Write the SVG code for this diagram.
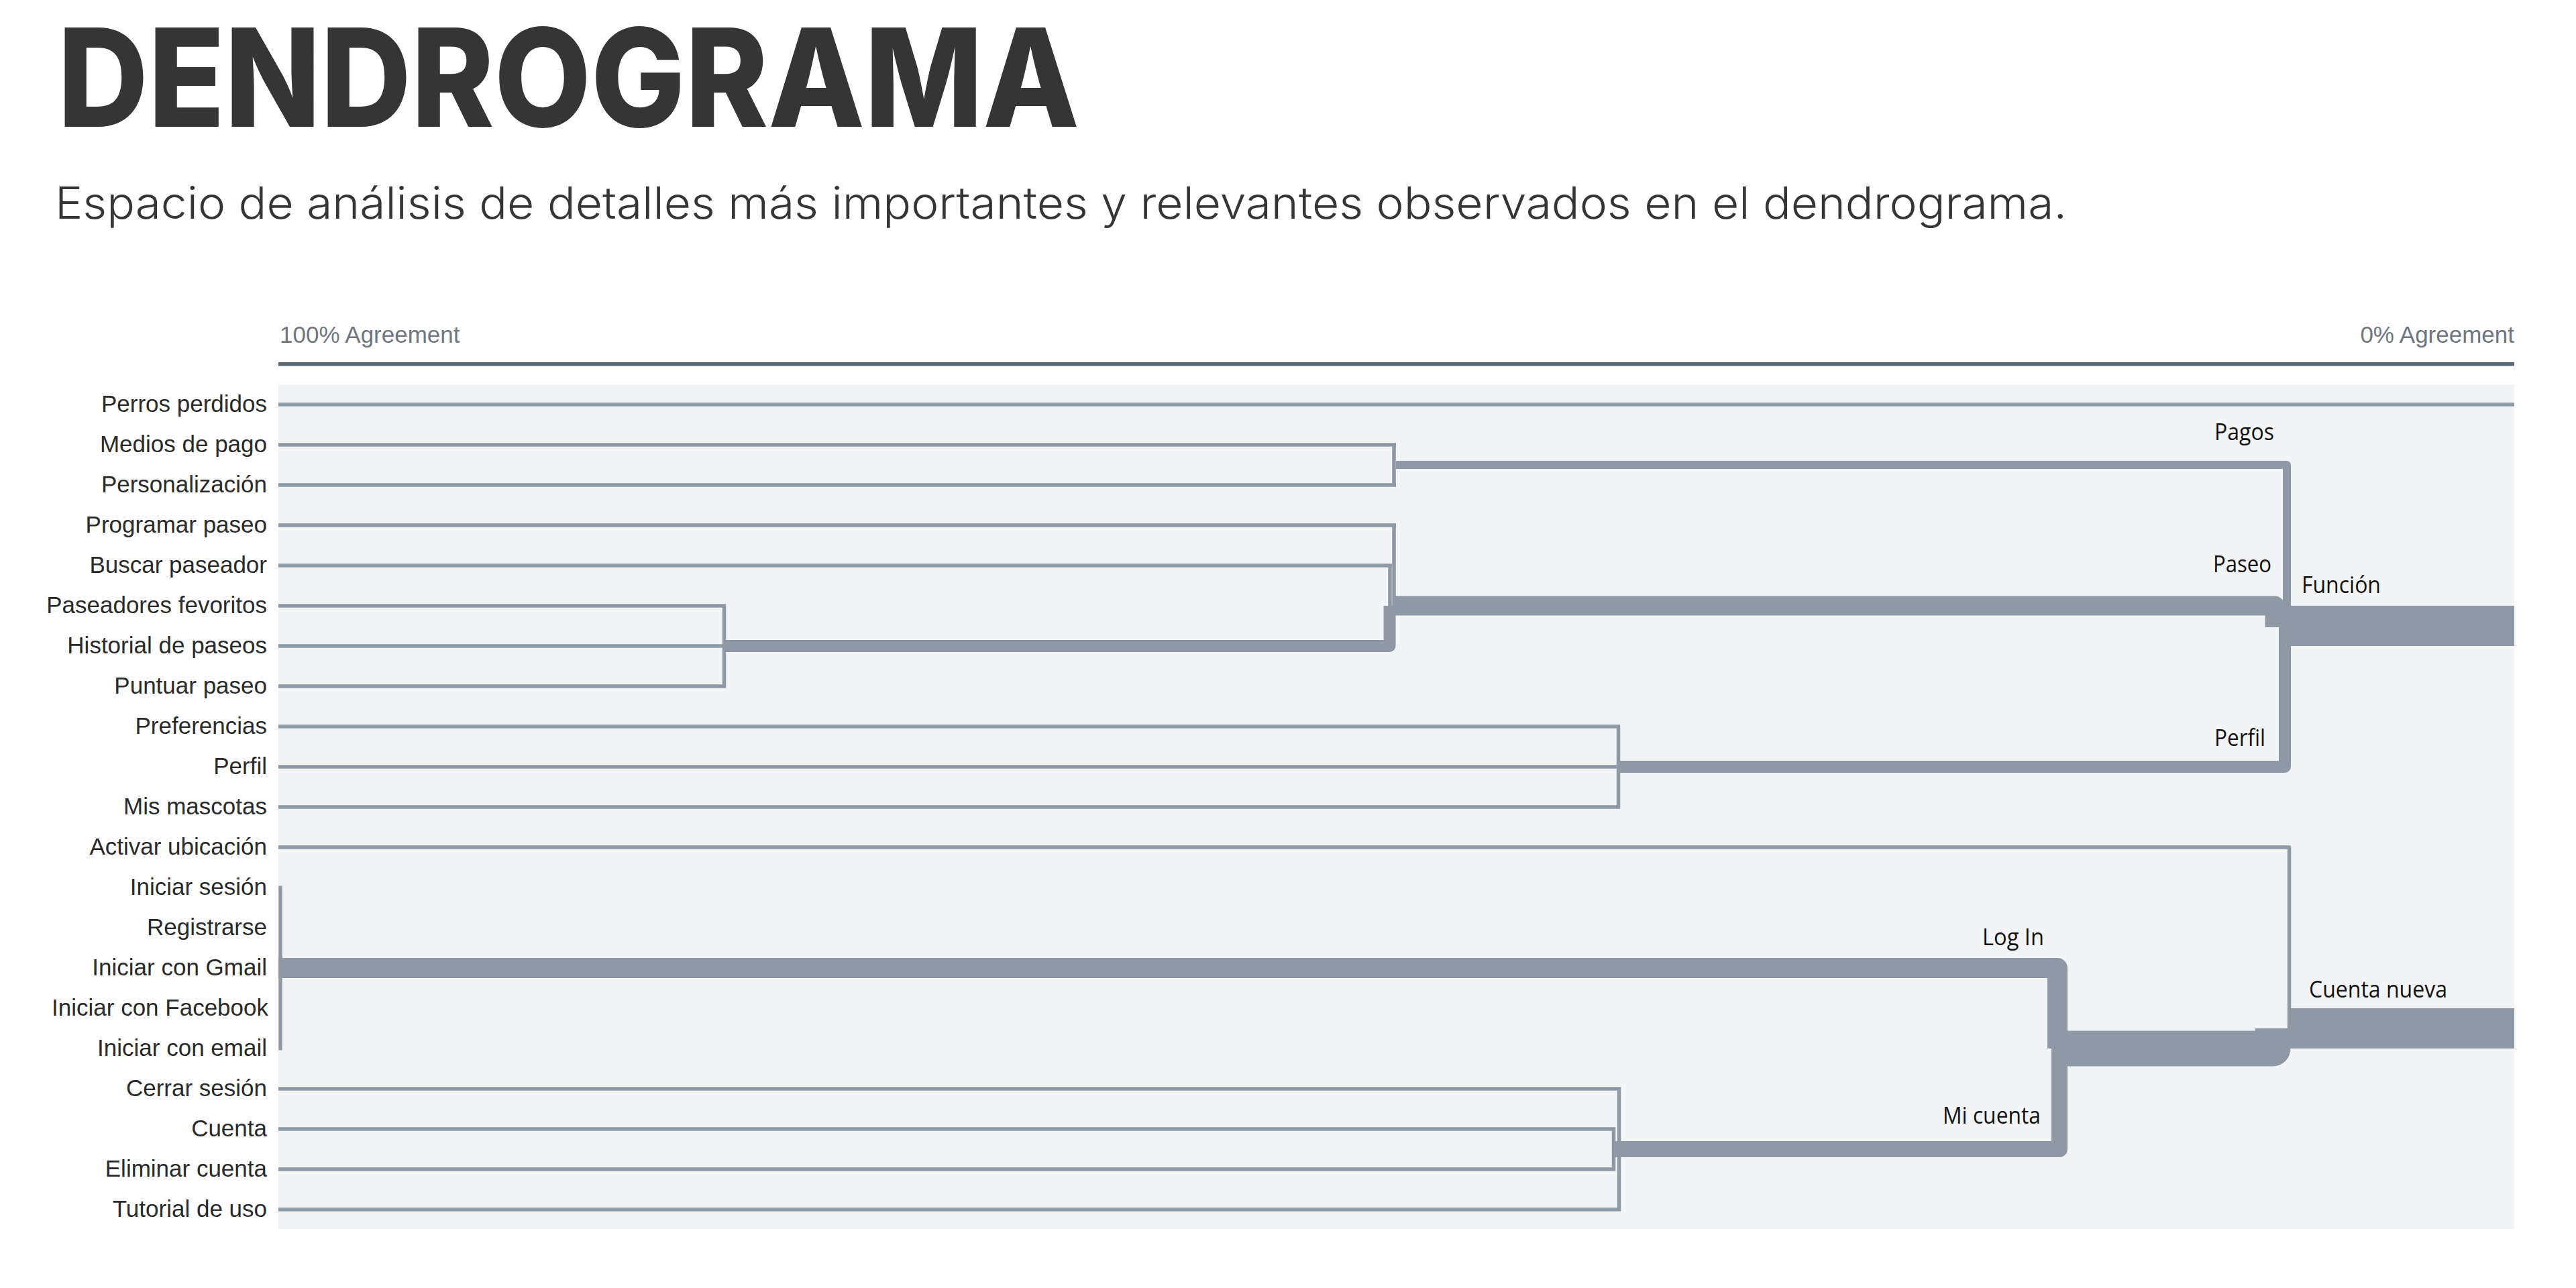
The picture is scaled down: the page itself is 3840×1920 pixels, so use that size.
<svg xmlns="http://www.w3.org/2000/svg" width="3840" height="1920" viewBox="0 0 3840 1920">
  <style>
    .title { font-family: Inter, "Noto Sans", "DejaVu Sans", sans-serif; font-weight: 800; font-size: 204px; fill: #353535; }
    .subtitle { font-family: Inter, "Noto Sans", "DejaVu Sans", sans-serif; font-weight: 300; font-size: 66px; fill: #353535; }
    .axis { font-family: "Liberation Sans", Arial, sans-serif; font-size: 35px; fill: #6f7680; }
    .leaf { font-family: "Liberation Sans", Arial, sans-serif; font-size: 35px; fill: #2a2a2a; text-anchor: end; }
    .clabel { font-family: "Open Sans", "Noto Sans", sans-serif; font-size: 35px; fill: #111111; }
    .ln { fill: none; stroke: #8e99a5; stroke-linejoin: round; stroke-linecap: butt; }
    .thin { stroke-width: 5.5; }
  </style>
  <rect x="0" y="0" width="3840" height="1920" fill="#ffffff"/>

  <g id="header">
    <text class="title" x="86" y="189" textLength="1523" lengthAdjust="spacingAndGlyphs">DENDROGRAMA</text>
    <text class="subtitle" x="82" y="326" textLength="2999" lengthAdjust="spacingAndGlyphs">Espacio de análisis de detalles más importantes y relevantes observados en el dendrograma.</text>
  </g>

  <g id="axis">
    <text class="axis" x="417" y="511">100% Agreement</text>
    <text class="axis" x="3748" y="511" text-anchor="end">0% Agreement</text>
    <rect x="415" y="540" width="3333" height="5.5" fill="#5b6774"/>
  </g>

  <rect id="panel" x="415" y="573" width="3333" height="1259" fill="#f3f4f6"/>

  <g id="connectors">
    <!-- leaf lines -->
    <path class="ln thin" d="M415 603 H3748"/>
    <path class="ln thin" d="M415 663 H2081 M415 723 H2081 M2078 660.5 V725.5"/>
    <path class="ln thin" d="M415 783 H2081 M2078 780.5 V903"/>
    <path class="ln thin" d="M415 843 H2075 M2072 840.5 V903"/>
    <path class="ln thin" d="M415 903 H1082 M415 963 H1082 M415 1023 H1082 M1079.5 900.5 V1025.5"/>
    <path class="ln thin" d="M415 1083 H2415 M415 1143 H2415 M415 1203 H2415 M2412.5 1080.5 V1205.5"/>
    <path class="ln thin" d="M415 1263 H3412.5 V1533"/>
    <path class="ln thin" d="M418 1320.5 V1565.5"/>
    <path class="ln thin" d="M415 1623 H2416 M415 1803 H2416 M2413.5 1620.5 V1805.5"/>
    <path class="ln thin" d="M415 1683 H2408 M415 1743 H2408 M2405.5 1680.5 V1745.5"/>
    <!-- cluster links -->
    <path class="ln" stroke-width="12" d="M2081 693 H3409 V933"/>
    <path class="ln" stroke-width="18" d="M1082 963 H2071.5 V903"/>
    <path class="ln" stroke-width="29" d="M2078 903 H3391 V935"/>
    <path class="ln" stroke-width="18" d="M2415 1143 H3406 V933"/>
    <path class="ln" stroke-width="60" d="M3406 933 H3748"/>
    <path class="ln" stroke-width="30" d="M415 1443 H3067 V1563"/>
    <path class="ln" stroke-width="24" d="M2408 1713 H3070 V1563"/>
    <path class="ln" stroke-width="53" d="M3067 1563 H3388 V1533"/>
    <path class="ln" stroke-width="60" d="M3412 1533 H3748"/>
  </g>

  <g id="leaves">
    <g id="leaf-perros"><text class="leaf" x="398" y="614">Perros perdidos</text></g>
    <g id="leaf-medios"><text class="leaf" x="398" y="674">Medios de pago</text></g>
    <g id="leaf-personalizacion"><text class="leaf" x="398" y="734">Personalización</text></g>
    <g id="leaf-programar"><text class="leaf" x="398" y="794">Programar paseo</text></g>
    <g id="leaf-buscar"><text class="leaf" x="398" y="854">Buscar paseador</text></g>
    <g id="leaf-paseadores"><text class="leaf" x="398" y="914">Paseadores fevoritos</text></g>
    <g id="leaf-historial"><text class="leaf" x="398" y="974">Historial de paseos</text></g>
    <g id="leaf-puntuar"><text class="leaf" x="398" y="1034">Puntuar paseo</text></g>
    <g id="leaf-preferencias"><text class="leaf" x="398" y="1094">Preferencias</text></g>
    <g id="leaf-perfil"><text class="leaf" x="398" y="1154">Perfil</text></g>
    <g id="leaf-mascotas"><text class="leaf" x="398" y="1214">Mis mascotas</text></g>
    <g id="leaf-activar"><text class="leaf" x="398" y="1274">Activar ubicación</text></g>
    <g id="leaf-iniciar-sesion"><text class="leaf" x="398" y="1334">Iniciar sesión</text></g>
    <g id="leaf-registrarse"><text class="leaf" x="398" y="1394">Registrarse</text></g>
    <g id="leaf-gmail"><text class="leaf" x="398" y="1454">Iniciar con Gmail</text></g>
    <g id="leaf-facebook"><text class="leaf" x="400" y="1514">Iniciar con Facebook</text></g>
    <g id="leaf-email"><text class="leaf" x="398" y="1574">Iniciar con email</text></g>
    <g id="leaf-cerrar"><text class="leaf" x="398" y="1634">Cerrar sesión</text></g>
    <g id="leaf-cuenta"><text class="leaf" x="398" y="1694">Cuenta</text></g>
    <g id="leaf-eliminar"><text class="leaf" x="398" y="1754">Eliminar cuenta</text></g>
    <g id="leaf-tutorial"><text class="leaf" x="398" y="1814">Tutorial de uso</text></g>
  </g>

  <g id="clusters">
    <g id="cl-pagos"><text class="clabel" x="3301" y="656" textLength="89" lengthAdjust="spacingAndGlyphs">Pagos</text></g>
    <g id="cl-paseo"><text class="clabel" x="3299" y="853" textLength="87" lengthAdjust="spacingAndGlyphs">Paseo</text></g>
    <g id="cl-funcion"><text class="clabel" x="3431" y="884" textLength="118" lengthAdjust="spacingAndGlyphs">Función</text></g>
    <g id="cl-perfil"><text class="clabel" x="3301" y="1112" textLength="76" lengthAdjust="spacingAndGlyphs">Perfil</text></g>
    <g id="cl-login"><text class="clabel" x="2955" y="1409" textLength="92" lengthAdjust="spacingAndGlyphs">Log In</text></g>
    <g id="cl-cuentanueva"><text class="clabel" x="3442" y="1487" textLength="206" lengthAdjust="spacingAndGlyphs">Cuenta nueva</text></g>
    <g id="cl-micuenta"><text class="clabel" x="2896" y="1675" textLength="146" lengthAdjust="spacingAndGlyphs">Mi cuenta</text></g>
  </g>
</svg>
